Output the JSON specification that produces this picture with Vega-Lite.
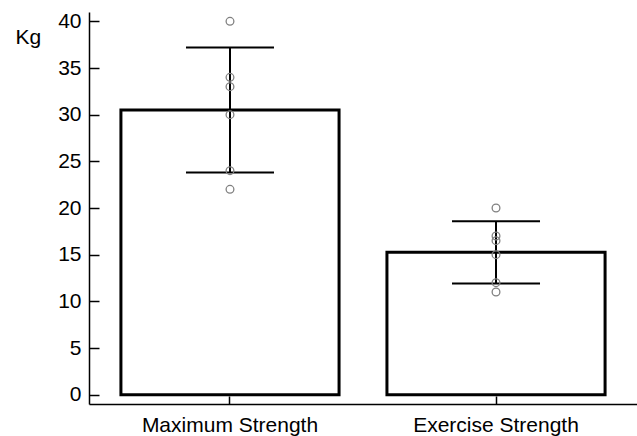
{
  "$schema": "https://vega.github.io/schema/vega-lite/v6.json",
  "width": 548,
  "height": 392,
  "autosize": {"type": "none"},
  "padding": {"left": 89, "top": 12, "right": 0, "bottom": 32},
  "background": "white",
  "config": {"view": {"stroke": null}, "font": "Liberation Sans"},
  "data": {"values": [
    {"group": "Maximum Strength", "kg": 40},
    {"group": "Maximum Strength", "kg": 34},
    {"group": "Maximum Strength", "kg": 33},
    {"group": "Maximum Strength", "kg": 30},
    {"group": "Maximum Strength", "kg": 24},
    {"group": "Maximum Strength", "kg": 22},
    {"group": "Exercise Strength", "kg": 20},
    {"group": "Exercise Strength", "kg": 17},
    {"group": "Exercise Strength", "kg": 16.5},
    {"group": "Exercise Strength", "kg": 15},
    {"group": "Exercise Strength", "kg": 12},
    {"group": "Exercise Strength", "kg": 11}
  ]},
  "encoding": {
    "x": {
      "field": "group", "type": "nominal", "sort": ["Maximum Strength", "Exercise Strength"],
      "scale": {"paddingInner": 0.18, "paddingOuter": 0.12},
      "axis": {"title": null, "labelAngle": 0, "labelFontSize": 21, "labelColor": "black",
        "domainColor": "black", "domainWidth": 1.5, "tickColor": "black", "tickWidth": 1.5,
        "tickSize": -8, "labelPadding": 18}
    }
  },
  "layer": [
    {
      "mark": {"type": "bar", "fill": "white", "stroke": "black", "strokeWidth": 3},
      "encoding": {
        "y": {"aggregate": "mean", "field": "kg", "type": "quantitative", "title": "Kg",
          "scale": {"domain": [-1, 41], "nice": false, "zero": false},
          "axis": {"title": "Kg", "titleAngle": 0, "titleAlign": "left", "titleBaseline": "alphabetic",
            "titleX": -74, "titleY": 31, "titleFontSize": 21, "titleFontWeight": "normal", "titleColor": "black",
            "values": [0, 5, 10, 15, 20, 25, 30, 35, 40], "grid": false,
            "labelFontSize": 21, "labelColor": "black", "domainColor": "black", "domainWidth": 1.5,
            "tickColor": "black", "tickWidth": 1.5, "tickSize": -10, "labelPadding": 18}
        }
      }
    },
    {
      "mark": {"type": "errorbar", "extent": "stdev", "ticks": {"size": 88, "thickness": 2, "color": "black", "opacity": 1}, "rule": {"strokeWidth": 2, "color": "black"}},
      "encoding": {"y": {"field": "kg", "type": "quantitative", "title": "Kg"}}
    },
    {
      "mark": {"type": "point", "shape": "circle", "size": 60, "filled": false, "stroke": "#808080", "strokeWidth": 1.3, "fill": "white", "fillOpacity": 0, "opacity": 1},
      "encoding": {"y": {"field": "kg", "type": "quantitative", "title": "Kg"}}
    }
  ]
}
